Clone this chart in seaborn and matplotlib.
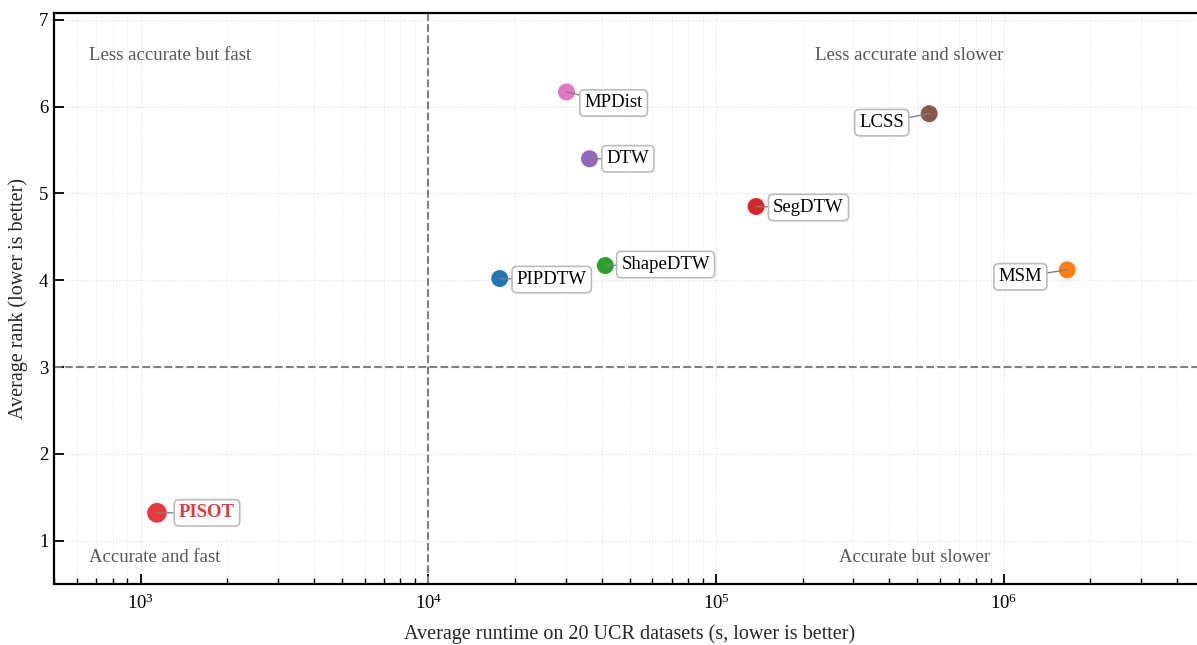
import pandas as pd
import numpy as np
import matplotlib
matplotlib.use("Agg")
import matplotlib.pyplot as plt
import seaborn as sns

# 方法、运行时间、平均排名
methods = ["PISOT", "PIPDTW", "ShapeDTW", "MPDist", "DTW", "SegDTW", "LCSS", "MSM"]
runtime = [1140, 17700, 41200, 30200, 36300, 137700, 550000, 1660000]
avg_rank = [1.32, 4.02, 4.17, 6.17, 5.40, 4.85, 5.92, 4.12]
colors = ["#e8383d", "#1f77b4", "#2ca02c", "#e377c2", "#9467bd", "#d62728", "#8c564b", "#ff7f0e"]

# 标签偏移 (像素)
offsets = {
    "PISOT": (22, 0, "left"),
    "PIPDTW": (17, -1, "left"),
    "ShapeDTW": (16, 1, "left"),
    "MPDist": (18, -11, "left"),
    "DTW": (17, 0, "left"),
    "SegDTW": (17, -1, "left"),
    "LCSS": (-25, -9, "right"),
    "MSM": (-25, -7, "right"),
}

df = pd.DataFrame({"method": methods, "runtime": runtime, "rank": avg_rank})

sns.set_style("ticks")
plt.rcParams["font.family"] = ["Liberation Serif", "DejaVu Serif"]
plt.rcParams["mathtext.fontset"] = "stix"

fig = plt.figure(figsize=(11.97, 6.45), dpi=100)
ax = fig.add_axes([54 / 1197, 61 / 645, 1151 / 1197, 571 / 645])

sns.scatterplot(data=df[df.method != "PISOT"], x="runtime", y="rank", hue="method",
                palette=dict(zip(methods, colors)), s=150, edgecolor="none",
                legend=False, ax=ax, zorder=3)
sns.scatterplot(data=df[df.method == "PISOT"], x="runtime", y="rank", color=colors[0],
                s=200, edgecolor="none", legend=False, ax=ax, zorder=3)

ax.set_xscale("log")
ax.set_xlim(500, 5e6)
ax.set_ylim(0.5, 7.08)
ax.set_yticks([1, 2, 3, 4, 5, 6, 7])

# 标签
for m, x, y in zip(methods, runtime, avg_rank):
    dx, dy, ha = offsets[m]
    bold = m == "PISOT"
    ax.annotate(m, (x, y), xytext=(dx, dy), textcoords="offset pixels",
                ha=ha, va="center", fontsize=13.5,
                color="#e8383d" if bold else "black",
                fontweight="bold" if bold else "normal",
                bbox=dict(boxstyle="round,pad=0.25", fc="white", ec="#bbbbbb", lw=1.2),
                arrowprops=dict(arrowstyle="-", color="gray", lw=1, shrinkA=0, shrinkB=0),
                zorder=4)

# 分区线
ax.axvline(1e4, color="gray", ls="--", lw=1.5, zorder=2)
ax.axhline(3, color="gray", ls="--", lw=1.5, zorder=2)

# 分区文字
qc = "#555555"
ax.text(660, 6.59, "Less accurate but fast", fontsize=13.5, color=qc, ha="left", va="center")
ax.text(4.69e5, 6.59, "Less accurate and slower", fontsize=13.5, color=qc, ha="center", va="center")
ax.text(660, 0.8, "Accurate and fast", fontsize=13.5, color=qc, ha="left", va="center")
ax.text(4.88e5, 0.8, "Accurate but slower", fontsize=13.5, color=qc, ha="center", va="center")

# 网格
ax.grid(True, which="major", ls=":", color="#dddddd", lw=0.8)
ax.grid(True, which="minor", axis="x", ls=":", color="#e6e6e6", lw=0.6)

ax.set_xlabel("Average runtime on 20 UCR datasets (s, lower is better)", fontsize=14.5, labelpad=8)
ax.set_ylabel("Average rank (lower is better)", fontsize=14.5, labelpad=8)

ax.tick_params(which="both", direction="in", labelsize=13.5, color="black", labelcolor="black")
ax.tick_params(which="major", length=7, width=1.3)
ax.tick_params(which="minor", length=4, width=1.0)
ax.tick_params(axis="x", which="major", pad=7)
ax.tick_params(axis="y", which="major", pad=4)
for side in ["left", "bottom", "top"]:
    ax.spines[side].set_linewidth(1.6)
    ax.spines[side].set_color("black")
ax.spines["right"].set_visible(False)

plt.savefig("out.png", dpi=100)
